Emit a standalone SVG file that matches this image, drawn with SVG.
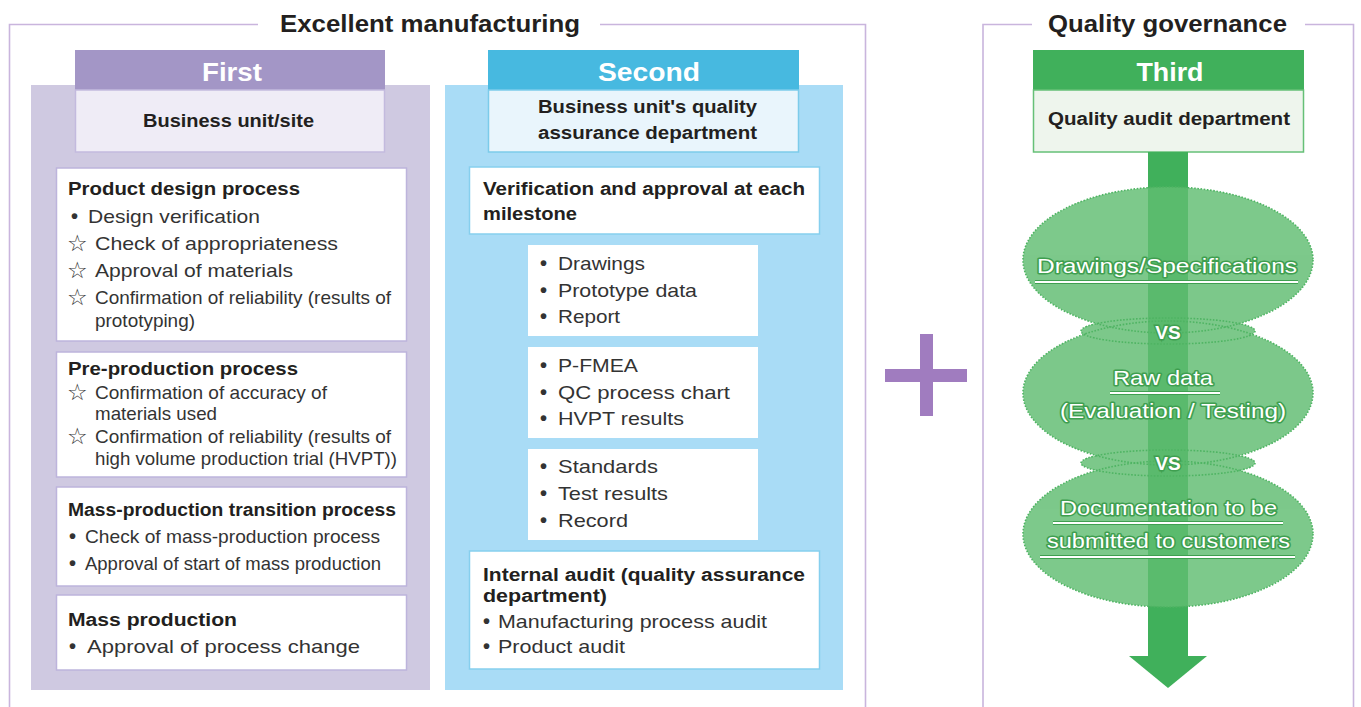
<svg xmlns="http://www.w3.org/2000/svg" width="1361" height="707" viewBox="0 0 1361 707">
  <defs>
    <style>
      text { font-family: "Liberation Sans", Arial, "DejaVu Sans", sans-serif; fill: #2b2b2b; }
      .frame { fill: none; stroke: #c9b5dd; stroke-width: 1.6; }
      .title { font-size: 23px; font-weight: bold; fill: #231f20; }
      .hdr { font-size: 25px; font-weight: bold; fill: #ffffff; text-anchor: middle; }
      .sub { font-size: 18px; font-weight: bold; fill: #231f20; }
      .bt { font-size: 18px; font-weight: bold; fill: #231f20; }
      .it { font-size: 19px; fill: #333333; }
      .dot { font-size: 20px; font-weight: bold; fill: #333333; }
      .star { font-family: "DejaVu Sans", sans-serif; font-size: 23px; fill: #3a3a3a; }
      .box1 { fill: #ffffff; stroke: #bdb4dc; stroke-width: 1.5; }
      .box2 { fill: #ffffff; stroke: #86cfee; stroke-width: 1.5; }
      .inner2 { fill: #ffffff; }
      .et { font-size: 21px; fill: #ffffff; stroke: #3f9f50; stroke-width: 3; paint-order: stroke; stroke-linejoin: round; }
      .vs { font-size: 19px; font-weight: bold; fill: #ffffff; stroke: #3f9f50; stroke-width: 3; paint-order: stroke; text-anchor: middle; }
      .ul-o { stroke: #3f9f50; stroke-width: 4; }
      .ul-i { stroke: #ffffff; stroke-width: 2; }
      .ell { fill: #60bd71; }
      .ell-edge { fill: none; stroke: #4fb463; stroke-width: 1.6; stroke-dasharray: 1.6 1.6; }
    </style>
  </defs>

  <rect width="1361" height="707" fill="#ffffff"/>

  <!-- outer frames -->
  <g id="frame-manufacturing">
    <path class="frame" d="M9.5,707 V24.5 H258 M600,24.5 H865.5 V707"/>
    <text class="title" x="280" y="32" textLength="300" lengthAdjust="spacingAndGlyphs">Excellent manufacturing</text>
  </g>
  <g id="frame-governance">
    <path class="frame" d="M983,707 V24.5 H1032 M1305,24.5 H1353.5 V707"/>
    <text class="title" x="1048" y="32" textLength="239" lengthAdjust="spacingAndGlyphs">Quality governance</text>
  </g>

  <!-- First line -->
  <g id="first">
    <rect x="31" y="85" width="399" height="605" fill="#cfc9e1"/>
    <rect x="75" y="50" width="310" height="40" fill="#a396c6"/>
    <text class="hdr" x="232" y="81" textLength="60" lengthAdjust="spacingAndGlyphs">First</text>
    <rect x="75.5" y="90" width="309" height="62" fill="#efecf6" stroke="#c3bade" stroke-width="1.5"/>
    <text class="sub" x="143" y="127" textLength="171" lengthAdjust="spacingAndGlyphs">Business unit/site</text>
  </g>

  <g id="product-design">
    <rect class="box1" x="56.5" y="168" width="350" height="173"/>
    <text class="bt" x="68" y="195" textLength="232" lengthAdjust="spacingAndGlyphs">Product design process</text>
    <text class="dot" x="71" y="223">•</text>
    <text class="it" x="88" y="223" textLength="172" lengthAdjust="spacingAndGlyphs">Design verification</text>
    <text class="star" x="67" y="251">☆</text>
    <text class="it" x="95" y="250" textLength="243" lengthAdjust="spacingAndGlyphs">Check of appropriateness</text>
    <text class="star" x="67" y="278">☆</text>
    <text class="it" x="95" y="277" textLength="198" lengthAdjust="spacingAndGlyphs">Approval of materials</text>
    <text class="star" x="67" y="305">☆</text>
    <text class="it" x="95" y="304" textLength="296" lengthAdjust="spacingAndGlyphs">Confirmation of reliability (results of</text>
    <text class="it" x="95" y="327" textLength="100" lengthAdjust="spacingAndGlyphs">prototyping)</text>
  </g>

  <g id="pre-production">
    <rect class="box1" x="56.5" y="352" width="350" height="125"/>
    <text class="bt" x="68" y="375" textLength="230" lengthAdjust="spacingAndGlyphs">Pre-production process</text>
    <text class="star" x="67" y="400">☆</text>
    <text class="it" x="95" y="399" textLength="232" lengthAdjust="spacingAndGlyphs">Confirmation of accuracy of</text>
    <text class="it" x="95" y="420" textLength="122" lengthAdjust="spacingAndGlyphs">materials used</text>
    <text class="star" x="67" y="444">☆</text>
    <text class="it" x="95" y="443" textLength="296" lengthAdjust="spacingAndGlyphs">Confirmation of reliability (results of</text>
    <text class="it" x="95" y="465" textLength="302" lengthAdjust="spacingAndGlyphs">high volume production trial (HVPT))</text>
  </g>

  <g id="transition">
    <rect class="box1" x="56.5" y="487" width="350" height="99"/>
    <text class="bt" x="68" y="516" textLength="328" lengthAdjust="spacingAndGlyphs">Mass-production transition process</text>
    <text class="dot" x="69" y="543">•</text>
    <text class="it" x="85" y="543" textLength="295" lengthAdjust="spacingAndGlyphs">Check of mass-production process</text>
    <text class="dot" x="69" y="570">•</text>
    <text class="it" x="85" y="570" textLength="296" lengthAdjust="spacingAndGlyphs">Approval of start of mass production</text>
  </g>

  <g id="mass-production">
    <rect class="box1" x="56.5" y="595" width="350" height="75"/>
    <text class="bt" x="68" y="626" textLength="169" lengthAdjust="spacingAndGlyphs">Mass production</text>
    <text class="dot" x="69" y="653">•</text>
    <text class="it" x="87" y="653" textLength="273" lengthAdjust="spacingAndGlyphs">Approval of process change</text>
  </g>

  <!-- Second line -->
  <g id="second">
    <rect x="445" y="85" width="398" height="605" fill="#a9dcf6"/>
    <rect x="488" y="50" width="311" height="40" fill="#47b9e0"/>
    <text class="hdr" x="649" y="81" textLength="102" lengthAdjust="spacingAndGlyphs">Second</text>
    <rect x="488.5" y="90" width="310" height="62" fill="#e9f5fc" stroke="#7ccbea" stroke-width="1.5"/>
    <text class="sub" x="538" y="113" textLength="219" lengthAdjust="spacingAndGlyphs">Business unit's quality</text>
    <text class="sub" x="538" y="139" textLength="219" lengthAdjust="spacingAndGlyphs">assurance department</text>
  </g>

  <g id="milestone">
    <rect class="box2" x="469.5" y="167" width="350" height="67"/>
    <text class="bt" x="483" y="195" textLength="322" lengthAdjust="spacingAndGlyphs">Verification and approval at each</text>
    <text class="bt" x="483" y="220" textLength="94" lengthAdjust="spacingAndGlyphs">milestone</text>
  </g>

  <g id="docs-design">
    <rect class="inner2" x="528" y="245" width="230" height="91"/>
    <text class="dot" x="540" y="270">•</text>
    <text class="it" x="558" y="270" textLength="87" lengthAdjust="spacingAndGlyphs">Drawings</text>
    <text class="dot" x="540" y="297">•</text>
    <text class="it" x="558" y="297" textLength="139" lengthAdjust="spacingAndGlyphs">Prototype data</text>
    <text class="dot" x="540" y="323">•</text>
    <text class="it" x="558" y="323" textLength="62" lengthAdjust="spacingAndGlyphs">Report</text>
  </g>

  <g id="docs-process">
    <rect class="inner2" x="528" y="347" width="230" height="91"/>
    <text class="dot" x="540" y="372">•</text>
    <text class="it" x="558" y="372" textLength="80" lengthAdjust="spacingAndGlyphs">P-FMEA</text>
    <text class="dot" x="540" y="399">•</text>
    <text class="it" x="558" y="399" textLength="172" lengthAdjust="spacingAndGlyphs">QC process chart</text>
    <text class="dot" x="540" y="425">•</text>
    <text class="it" x="558" y="425" textLength="126" lengthAdjust="spacingAndGlyphs">HVPT results</text>
  </g>

  <g id="docs-records">
    <rect class="inner2" x="528" y="449" width="230" height="91"/>
    <text class="dot" x="540" y="473">•</text>
    <text class="it" x="558" y="473" textLength="100" lengthAdjust="spacingAndGlyphs">Standards</text>
    <text class="dot" x="540" y="500">•</text>
    <text class="it" x="558" y="500" textLength="110" lengthAdjust="spacingAndGlyphs">Test results</text>
    <text class="dot" x="540" y="527">•</text>
    <text class="it" x="558" y="527" textLength="70" lengthAdjust="spacingAndGlyphs">Record</text>
  </g>

  <g id="internal-audit">
    <rect class="box2" x="469.5" y="551" width="350" height="118"/>
    <text class="bt" x="483" y="581" textLength="322" lengthAdjust="spacingAndGlyphs">Internal audit (quality assurance</text>
    <text class="bt" x="483" y="602" textLength="124" lengthAdjust="spacingAndGlyphs">department)</text>
    <text class="dot" x="483" y="628">•</text>
    <text class="it" x="498" y="628" textLength="269" lengthAdjust="spacingAndGlyphs">Manufacturing process audit</text>
    <text class="dot" x="483" y="653">•</text>
    <text class="it" x="498" y="653" textLength="127" lengthAdjust="spacingAndGlyphs">Product audit</text>
  </g>

  <!-- plus sign between the two frames -->
  <g id="plus" fill="#a07cbf">
    <rect x="885" y="369" width="82" height="13"/>
    <rect x="920" y="334" width="13" height="82"/>
  </g>

  <!-- Third line -->
  <g id="third">
    <rect x="1033" y="50" width="271" height="40" fill="#40b05b"/>
    <text class="hdr" x="1170" y="81" textLength="67" lengthAdjust="spacingAndGlyphs">Third</text>
    <rect x="1033.5" y="90" width="270" height="62" fill="#eef5ed" stroke="#66c077" stroke-width="1.5"/>
    <text class="sub" x="1048" y="125" textLength="242" lengthAdjust="spacingAndGlyphs">Quality audit department</text>
  </g>

  <!-- audit flow arrow with comparison ellipses -->
  <g id="connectors">
    <rect x="1148" y="152" width="40" height="505" fill="#40b05b"/>
    <polygon points="1129,656 1207,656 1168,688" fill="#40b05b"/>
  </g>

  <g id="comparison">
    <g opacity="0.82">
      <ellipse class="ell" cx="1168" cy="260" rx="145" ry="73"/>
      <ellipse class="ell" cx="1168" cy="393" rx="145" ry="72"/>
      <ellipse class="ell" cx="1168" cy="534" rx="145" ry="73"/>
      <ellipse class="ell" cx="1168" cy="331" rx="87" ry="13"/>
      <ellipse class="ell" cx="1168" cy="463" rx="87" ry="13"/>
    </g>
    <ellipse class="ell-edge" cx="1168" cy="260" rx="145" ry="73"/>
    <ellipse class="ell-edge" cx="1168" cy="393" rx="145" ry="72"/>
    <ellipse class="ell-edge" cx="1168" cy="534" rx="145" ry="73"/>
    <ellipse class="ell-edge" cx="1168" cy="331" rx="87" ry="13"/>
    <ellipse class="ell-edge" cx="1168" cy="463" rx="87" ry="13"/>

    <g id="item-drawings">
      <line class="ul-o" x1="1035" y1="282" x2="1298" y2="282"/>
      <line class="ul-i" x1="1035" y1="282" x2="1298" y2="282"/>
      <text class="et" x="1037" y="273" textLength="260" lengthAdjust="spacingAndGlyphs">Drawings/Specifications</text>
    </g>
    <text class="vs" x="1168" y="339">VS</text>
    <g id="item-raw">
      <line class="ul-o" x1="1110" y1="393" x2="1220" y2="393"/>
      <line class="ul-i" x1="1110" y1="393" x2="1220" y2="393"/>
      <text class="et" x="1113" y="385" textLength="100" lengthAdjust="spacingAndGlyphs">Raw data</text>
      <text class="et" x="1060" y="418" textLength="226" lengthAdjust="spacingAndGlyphs">(Evaluation / Testing)</text>
    </g>
    <text class="vs" x="1168" y="470">VS</text>
    <g id="item-documentation">
      <line class="ul-o" x1="1053" y1="523" x2="1283" y2="523"/>
      <line class="ul-i" x1="1053" y1="523" x2="1283" y2="523"/>
      <line class="ul-o" x1="1040" y1="557" x2="1295" y2="557"/>
      <line class="ul-i" x1="1040" y1="557" x2="1295" y2="557"/>
      <text class="et" x="1060" y="515" textLength="217" lengthAdjust="spacingAndGlyphs">Documentation to be</text>
      <text class="et" x="1047" y="548" textLength="243" lengthAdjust="spacingAndGlyphs">submitted to customers</text>
    </g>
  </g>
</svg>
